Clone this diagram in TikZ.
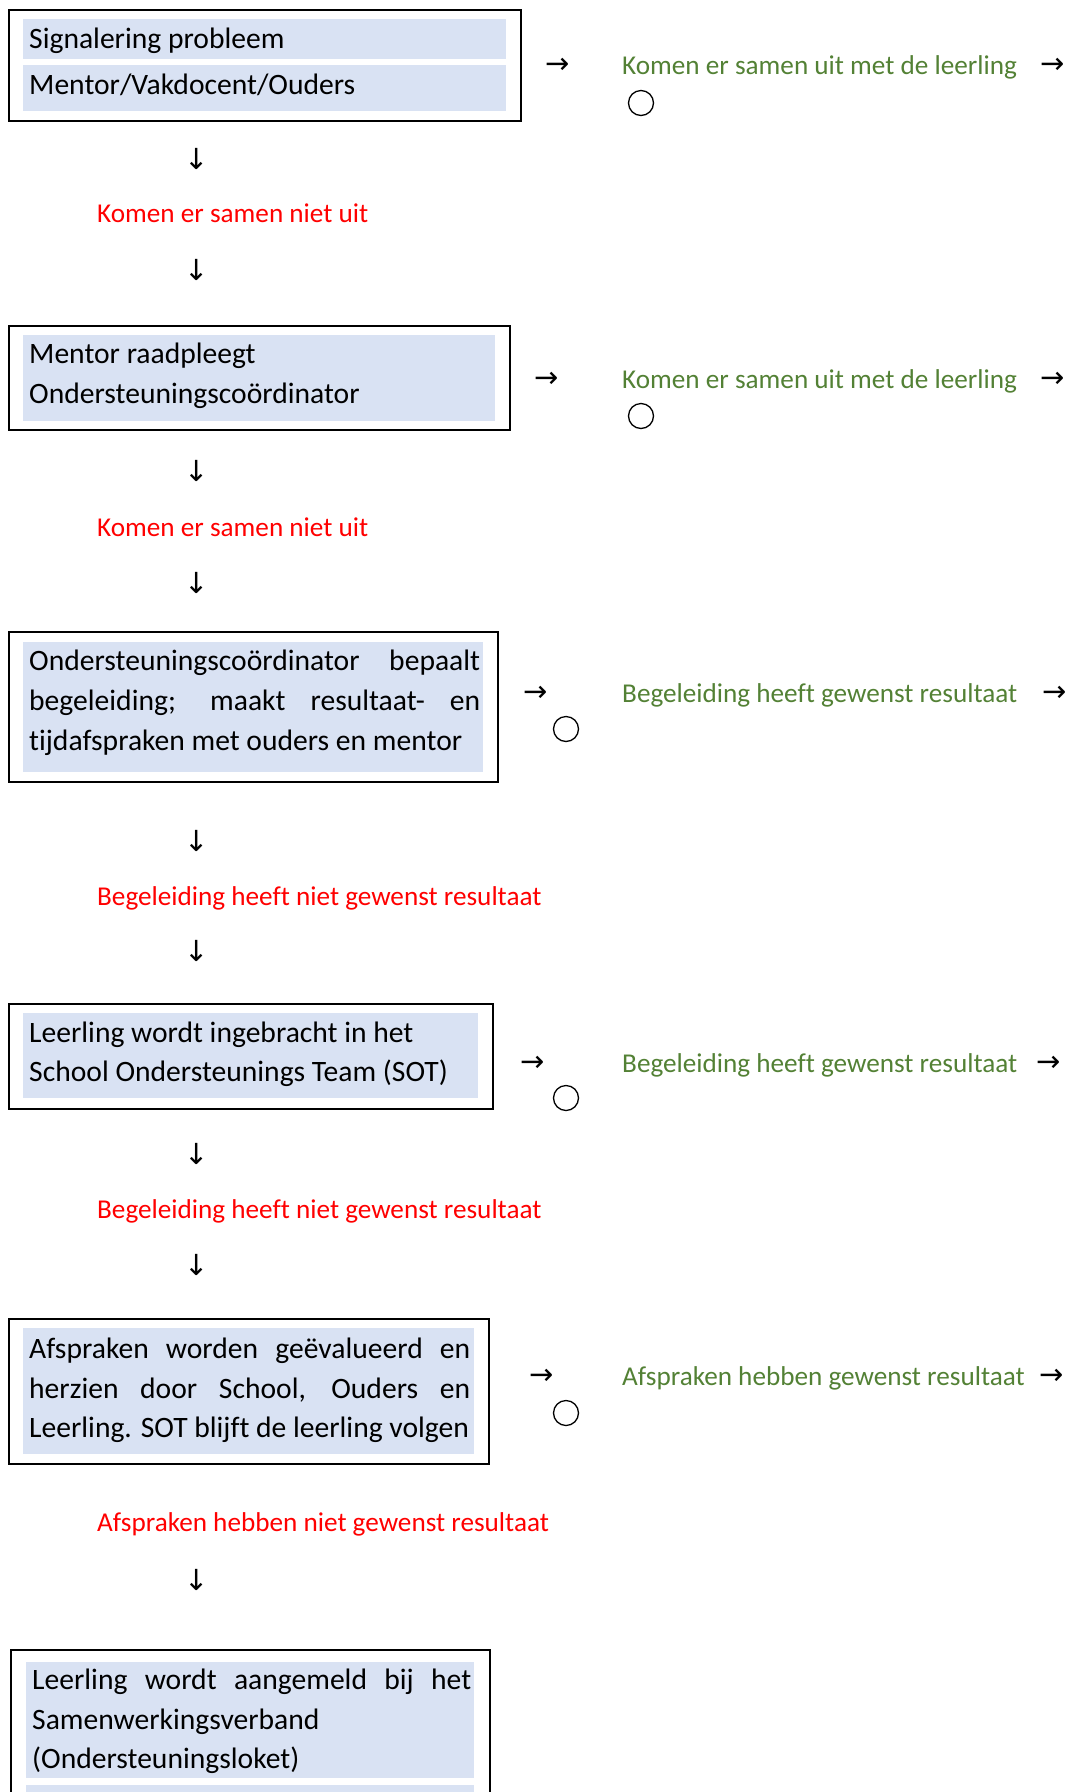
\documentclass[tikz,border=0pt]{standalone}
\usepackage{fontspec}
\setmainfont[Ligatures=NoCommon]{Carlito}
\newfontfamily\arrowfont{DejaVu Sans}
\definecolor{bandblue}{HTML}{D9E2F3}
\definecolor{okgreen}{HTML}{538135}
\definecolor{nored}{HTML}{FF0000}
\tikzset{
  frame/.style={draw=black, line width=1.8pt},
  band/.style={fill=bandblue},
  txt/.style={inner sep=0, anchor=base west, font=\fontsize{29.6}{40}\selectfont},
  lbl/.style={inner sep=0, anchor=base west, font=\fontsize{27.2}{40}\selectfont},
  oktext/.style={lbl, text=okgreen},
  notext/.style={lbl, text=nored},
  arr/.style={inner sep=0, font=\arrowfont\fontsize{29}{29}\selectfont},
  ring/.style={circle, draw, line width=1.3pt, minimum size=25pt, inner sep=0}
}
\begin{document}
\begin{tikzpicture}[x=1pt,y=-1pt]
\useasboundingbox (0,0) rectangle (1071,1792);
\clip (0,0) rectangle (1071,1792);
% ---- box 1
\draw[frame] (9,10) rectangle (521,121);
\fill[band] (23,19) rectangle (506,59);
\fill[band] (23,65) rectangle (506,111);
\node[txt] (t1a) at (29,48) {Signalering probleem};
\node[txt] (t1b) at (29,94) {Mentor/Vakdocent/Ouders};
\node[arr] (a1) at (558,66) {→};
\node[oktext] (g1) at (622,74) {Komen er samen uit met de leerling};
\node[arr] (e1) at (1053,66) {→};
\node[ring] (c1) at (641,103) {};
\node[arr] (d1) at (197,159) {↓};
\node[notext] (r1) at (97,222) {Komen er samen niet uit};
\node[arr] (d2) at (197,270) {↓};
% ---- box 2
\draw[frame] (9,326) rectangle (510,430);
\fill[band] (23,335) rectangle (495,421);
\node[txt] (t2a) at (29,363) {Mentor raadpleegt};
\node[txt] (t2b) at (29,403) {Ondersteuningscoördinator};
\node[arr] (a2) at (547,380) {→};
\node[oktext] (g2) at (622,388) {Komen er samen uit met de leerling};
\node[arr] (e2) at (1053,380) {→};
\node[ring] (c2) at (641,416) {};
\node[arr] (d3) at (197,471) {↓};
\node[notext] (r2) at (97,536) {Komen er samen niet uit};
\node[arr] (d4) at (197,583) {↓};
% ---- box 3
\draw[frame] (9,632) rectangle (498,782);
\fill[band] (23,642) rectangle (483,772);
\node[txt] (t3a) at (29,670) {\makebox[451pt][s]{Ondersteuningscoördinator bepaalt}};
\node[txt] (t3b) at (29,710) {\makebox[451pt][s]{begeleiding; maakt resultaat- en}};
\node[txt] (t3c) at (29,750) {tijdafspraken met ouders en mentor};
\node[arr] (a3) at (536,694) {→};
\node[oktext] (g3) at (622,702) {Begeleiding heeft gewenst resultaat};
\node[arr] (e3) at (1055,694) {→};
\node[ring] (c3) at (566,729) {};
\node[arr] (d5) at (197,841) {↓};
\node[notext] (r3) at (97,905) {Begeleiding heeft niet gewenst resultaat};
\node[arr] (d6) at (197,951) {↓};
% ---- box 4
\draw[frame] (9,1004) rectangle (493,1109);
\fill[band] (23,1013) rectangle (478,1098);
\node[txt] (t4a) at (29,1042) {Leerling wordt ingebracht in het};
\node[txt] (t4b) at (29,1081) {School Ondersteunings Team (SOT)};
\node[arr] (a4) at (533,1064) {→};
\node[oktext] (g4) at (622,1072) {Begeleiding heeft gewenst resultaat};
\node[arr] (e4) at (1049,1064) {→};
\node[ring] (c4) at (566,1098) {};
\node[arr] (d7) at (197,1154) {↓};
\node[notext] (r4) at (97,1218) {Begeleiding heeft niet gewenst resultaat};
\node[arr] (d8) at (197,1265) {↓};
% ---- box 5
\draw[frame] (9,1319) rectangle (489,1464);
\fill[band] (23,1328) rectangle (474,1454);
\node[txt] (t5a) at (29,1358) {\makebox[441pt][s]{Afspraken worden geëvalueerd en}};
\node[txt] (t5b) at (29,1398) {\makebox[441pt][s]{herzien door School, Ouders en}};
\node[txt] (t5c) at (29,1437) {Leerling. SOT blijft de leerling volgen};
\node[arr] (a5) at (542,1377) {→};
\node[oktext] (g5) at (622,1385) {Afspraken hebben gewenst resultaat};
\node[arr] (e5) at (1052,1377) {→};
\node[ring] (c5) at (566,1413) {};
\node[notext] (r5) at (97,1531) {Afspraken hebben niet gewenst resultaat};
\node[arr] (d9) at (197,1580) {↓};
% ---- box 6
\draw[frame] (11,1650) rectangle (490,1810);
\fill[band] (26,1662) rectangle (474,1778);
\fill[band] (26,1785) rectangle (474,1810);
\node[txt] (t6a) at (32,1689) {\makebox[439pt][s]{Leerling wordt aangemeld bij het}};
\node[txt] (t6b) at (32,1729) {Samenwerkingsverband};
\node[txt] (t6c) at (32,1768) {(Ondersteuningsloket)};
\end{tikzpicture}
\end{document}
